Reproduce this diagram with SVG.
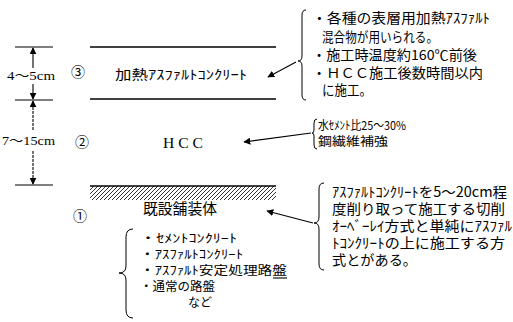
<svg xmlns="http://www.w3.org/2000/svg" width="513" height="322" viewBox="0 0 513 322">
<style>
.ln{stroke:#000;stroke-width:1.6;fill:none}
.thin{stroke:#000;stroke-width:1.1;fill:none}
.br{stroke:#000;stroke-width:1;fill:none}
.jp{font-family:"Noto Sans CJK JP","Noto Sans",sans-serif;fill:#000}
.sr{font-family:"Liberation Serif","Noto Sans CJK JP",serif;fill:#000}
</style>
<defs>
<marker id="ah" viewBox="0 0 10 10" refX="9" refY="5" markerWidth="7" markerHeight="7" orient="auto-start-reverse" markerUnits="userSpaceOnUse">
<path d="M0,0 L10,5 L0,10 z" fill="#000"/>
</marker>
<pattern id="hatch" width="4" height="4" patternUnits="userSpaceOnUse">
<path d="M-1,1 l2,-2 M0,4 l4,-4 M3,5 l2,-2" stroke="#000" stroke-width="0.8"/>
</pattern>
</defs>

<g id="dimension">
<line class="thin" x1="15" y1="47" x2="53" y2="47"/>
<line class="thin" x1="15" y1="100" x2="53" y2="100"/>
<line class="thin" x1="15" y1="185" x2="53" y2="185"/>
<line class="thin" x1="33" y1="68" x2="33" y2="48" marker-end="url(#ah)"/>
<line class="thin" x1="33" y1="84" x2="33" y2="99" marker-end="url(#ah)"/>
<line class="thin" x1="33" y1="130" x2="33" y2="101" marker-end="url(#ah)" stroke-dasharray="3,1"/>
<line class="thin" x1="33" y1="151" x2="33" y2="184" marker-end="url(#ah)" stroke-dasharray="3,1"/>
<text class="sr" x="7" y="80" font-size="13" textLength="48" lengthAdjust="spacingAndGlyphs">4～5cm</text>
<text class="sr" x="2" y="145" font-size="13" textLength="53" lengthAdjust="spacingAndGlyphs">7～15cm</text>
</g>

<g id="layer3">
<line class="ln" x1="90" y1="47" x2="276" y2="47"/>
<line class="ln" x1="90" y1="99" x2="276" y2="99"/>
<text class="jp" x="78" y="77" font-size="14" text-anchor="middle">③</text>
<text class="jp" x="115" y="79" font-size="13" textLength="132" lengthAdjust="spacingAndGlyphs">加熱ｱｽﾌｧﾙﾄｺﾝｸﾘｰﾄ</text>
</g>

<g id="layer2">
<text class="jp" x="82" y="147" font-size="14" text-anchor="middle">②</text>
<text class="sr" x="163" y="148" font-size="15" textLength="40" lengthAdjust="spacingAndGlyphs">H C C</text>
</g>

<g id="layer1">
<rect x="90" y="186" width="186" height="14" fill="url(#hatch)"/>
<line class="ln" x1="90" y1="186" x2="276" y2="186"/>
<text class="jp" x="80" y="221" font-size="14" text-anchor="middle">①</text>
<text class="jp" x="143" y="214" font-size="15" textLength="74" lengthAdjust="spacingAndGlyphs">既設舗装体</text>
</g>

<g id="note-top">
<path class="br" d="M306,10 Q302,10 302,15 L302,56 Q302,61 298,61 Q302,61 302,66 L302,95 Q302,100 306,100"/>
<text class="jp" font-size="13.5">
<tspan x="312" y="23" textLength="178" lengthAdjust="spacingAndGlyphs">・各種の表層用加熱ｱｽﾌｧﾙﾄ</tspan>
<tspan x="322" y="42" textLength="116" lengthAdjust="spacingAndGlyphs">混合物が用いられる。</tspan>
<tspan x="312" y="60" textLength="165" lengthAdjust="spacingAndGlyphs">・施工時温度約160℃前後</tspan>
<tspan x="312" y="78" textLength="171" lengthAdjust="spacingAndGlyphs">・ＨＣＣ施工後数時間以内</tspan>
<tspan x="322" y="95" textLength="50" lengthAdjust="spacingAndGlyphs">に施工。</tspan>
</text>
</g>

<g id="note-mid">
<path class="br" d="M317,119 Q314,119 314,123 L314,130 Q314,133 312,133 Q314,133 314,136 L314,145 Q314,149 317,149"/>
<text class="jp" font-size="12">
<tspan x="318" y="130" textLength="88" lengthAdjust="spacingAndGlyphs">水ｾﾒﾝﾄ比25～30%</tspan>
<tspan x="318" y="146" textLength="70" lengthAdjust="spacingAndGlyphs">鋼繊維補強</tspan>
</text>
</g>

<g id="note-bottom">
<path class="br" d="M324,183 Q319,183 319,189 L319,217 Q319,223 314,223 Q319,223 319,229 L319,264 Q319,270 324,270"/>
<text class="jp" font-size="14">
<tspan x="332" y="197" textLength="175" lengthAdjust="spacingAndGlyphs">ｱｽﾌｧﾙﾄｺﾝｸﾘｰﾄを5～20cm程</tspan>
<tspan x="332" y="214" textLength="173" lengthAdjust="spacingAndGlyphs">度削り取って施工する切削</tspan>
<tspan x="332" y="231" textLength="180" lengthAdjust="spacingAndGlyphs">ｵｰﾍﾞｰﾚｲ方式と単純にｱｽﾌｧﾙ</tspan>
<tspan x="332" y="248" textLength="173" lengthAdjust="spacingAndGlyphs">ﾄｺﾝｸﾘｰﾄの上に施工する方</tspan>
<tspan x="332" y="265" textLength="85" lengthAdjust="spacingAndGlyphs">式とがある。</tspan>
</text>
</g>

<g id="note-left">
<path class="br" d="M133,229 Q126,229 126,237 L126,266 Q126,273 119,273 Q126,273 126,280 L126,310 Q126,318 133,318"/>
<text class="jp" font-size="12">
<tspan x="140" y="243" textLength="97" lengthAdjust="spacingAndGlyphs">・ｾﾒﾝﾄｺﾝｸﾘｰﾄ</tspan>
<tspan x="140" y="259" textLength="103" lengthAdjust="spacingAndGlyphs">・ｱｽﾌｧﾙﾄｺﾝｸﾘｰﾄ</tspan>
<tspan x="140" y="275" textLength="147" lengthAdjust="spacingAndGlyphs">・ｱｽﾌｧﾙﾄ安定処理路盤</tspan>
<tspan x="140" y="291" textLength="75" lengthAdjust="spacingAndGlyphs">・通常の路盤</tspan>
<tspan x="188" y="307" textLength="24" lengthAdjust="spacingAndGlyphs">など</tspan>
</text>
<line class="thin" x1="273" y1="278" x2="287" y2="278"/>
</g>

<g id="connectors">
<line class="thin" x1="296" y1="62" x2="268" y2="77" marker-end="url(#ah)"/>
<line class="thin" x1="311" y1="133" x2="244" y2="142" marker-end="url(#ah)"/>
<line class="thin" x1="313" y1="223" x2="267" y2="211" marker-end="url(#ah)"/>
</g>
</svg>
